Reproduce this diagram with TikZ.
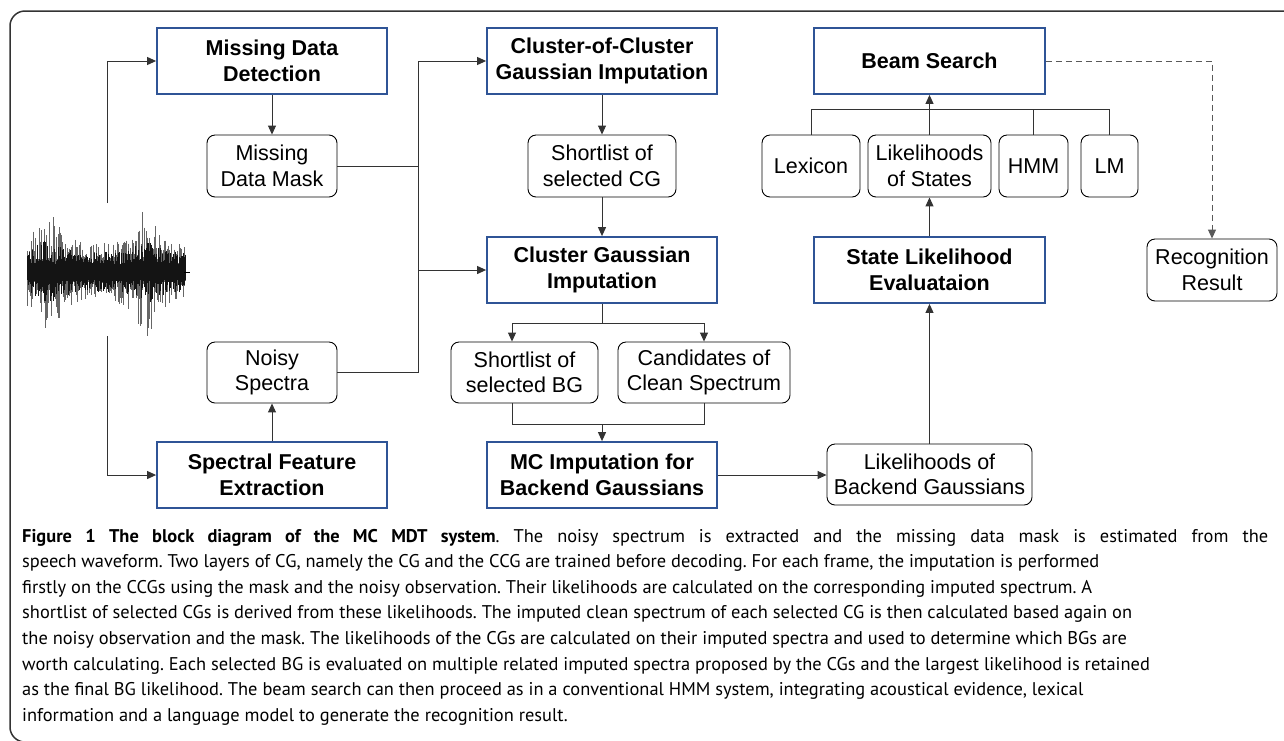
\documentclass[tikz,border=0pt]{standalone}
\usepackage{fontspec}
\setmainfont{Liberation Sans}
\newfontfamily\capfont{PT Sans}
\usetikzlibrary{arrows.meta}
\definecolor{boxblue}{HTML}{2F5496}
\definecolor{linegray}{HTML}{333333}
\newcommand\boxbf{\fontsize{21.5}{25.5}\selectfont\bfseries}
\newcommand\boxrm{\fontsize{21.5}{25.5}\selectfont}
\newcommand\capsize{\capfont\fontsize{18.4}{25.5}\selectfont\frenchspacing}
\tikzset{
  blk/.style={draw=boxblue, line width=1.8pt, minimum width=230pt, minimum height=66pt, align=center, font=\boxbf, inner sep=0pt},
  rbox/.style={draw=black, line width=0.9pt, rounded corners=8pt, align=center, font=\boxrm, inner sep=0pt},
  conn/.style={line width=1pt, draw=linegray},
  arr/.style={conn, -{Triangle[length=9pt,width=8pt]}},
  capline/.style={anchor=base west, inner sep=0pt, font=\capsize},
}
\begin{document}
\begin{tikzpicture}[x=1pt,y=-1pt]
\useasboundingbox (0,0) rectangle (1284,740);
\begin{scope}
\clip (0,0) rectangle (1284,740);
\draw[line width=1.5pt, draw=black!80, rounded corners=15pt] (10,11) rectangle (1300,742);
\end{scope}

% waveform
\pgfmathsetseed{11}
\foreach \i in {0,...,316} {
  \pgfmathsetmacro\xx{27+\i*0.5}
  \pgfmathsetmacro\env{0.3+0.75/(1+((\xx-47)/13)^2)+0.75/(1+((\xx-146)/11)^2)}
  \pgfmathsetmacro\up{8+55*(rnd^2)*\env}
  \pgfmathsetmacro\dn{8+55*(rnd^2)*\env}
  \draw[line width=0.55pt, black!60] (\xx,272-\up) -- (\xx,272+\dn);
}
\foreach \i in {0,...,316} {
  \pgfmathsetmacro\xx{27+\i*0.5}
  \pgfmathsetmacro\env{0.5+0.6/(1+((\xx-47)/13)^2)+0.6/(1+((\xx-146)/11)^2)}
  \pgfmathsetmacro\up{8+22*(rnd^2)*\env}
  \pgfmathsetmacro\dn{8+22*(rnd^2)*\env}
  \draw[line width=0.55pt, black!92] (\xx,272-\up) -- (\xx,272+\dn);
}
\draw[line width=0.6pt] (184,272) -- (190,272);

% nodes
\node[blk] (mdd) at (272,61) {Missing Data\\Detection};
\node[rbox, minimum width=130pt, minimum height=62pt] (mdm) at (272,166) {Missing\\Data Mask};
\node[blk] (ccg) at (602,61) {Cluster-of-Cluster\\Gaussian Imputation};
\node[rbox, minimum width=148pt, minimum height=62pt] (scg) at (602,166) {Shortlist of\\selected CG};
\node[blk] (cgi) at (602,270) {Cluster Gaussian\\Imputation};
\node[rbox, minimum width=147pt, minimum height=61pt] (sbg) at (524.5,372.5) {Shortlist of\\selected BG};
\node[rbox, minimum width=172pt, minimum height=61pt] (ccs) at (704,372.5) {Candidates of\\Clean Spectrum};
\node[blk] (mci) at (602,475) {MC Imputation for\\Backend Gaussians};
\node[rbox, minimum width=205pt, minimum height=61pt] (lbg) at (929.5,474.5) {Likelihoods of\\Backend Gaussians};
\node[blk, minimum width=231pt] (sle) at (929.5,270) {State Likelihood\\Evaluataion};
\node[rbox, minimum width=123pt, minimum height=62pt] (los) at (929.5,166) {Likelihoods\\of States};
\node[rbox, minimum width=98pt, minimum height=62pt] (lex) at (811,166) {Lexicon};
\node[rbox, minimum width=69pt, minimum height=62pt] (hmm) at (1033.5,166) {HMM};
\node[rbox, minimum width=57pt, minimum height=62pt] (lm) at (1109.5,166) {LM};
\node[blk, minimum width=231pt] (bs) at (929.5,61) {Beam Search};
\node[rbox, minimum width=130pt, minimum height=62pt] (rr) at (1212,270) {Recognition\\Result};
\node[rbox, minimum width=130pt, minimum height=61pt] (ns) at (272,372.5) {Noisy\\Spectra};
\node[blk] (sfe) at (272,475) {Spectral Feature\\Extraction};

% connectors
\coordinate (wtop) at (107,203);
\coordinate (wbot) at (107,336);
\coordinate (vtop) at (418,61);
\coordinate (vbot) at (418,372.5);
\coordinate (split) at (602,323);
\coordinate (merge) at (602,424);
\coordinate (bus) at (811,109);

\draw[arr] (wtop) |- (mdd.west);
\draw[arr] (wbot) |- (sfe.west);
\draw[arr] (mdd) -- (mdm);
\draw[arr] (sfe) -- (ns);
\draw[conn] (mdm.east) -- (mdm.east -| vtop);
\draw[conn] (ns.east) -- (vbot) -- (vtop);
\draw[arr] (vtop) -- (ccg.west);
\draw[arr] (vtop |- cgi.west) -- (cgi.west);
\draw[arr] (ccg) -- (scg);
\draw[arr] (scg) -- (cgi);
\draw[conn] (cgi.south) -- (split);
\draw[arr] (split) -| ([xshift=-12.5pt]sbg.north);
\draw[arr] (split) -| (ccs.north);
\draw[conn] ([xshift=-12.5pt]sbg.south) |- (merge) -| (ccs.south);
\draw[arr] (merge) -- (mci.north);
\draw[arr] (mci.east) -- (mci.east -| lbg.west);
\draw[arr] (lbg) -- (sle);
\draw[arr] (sle) -- (los);
\draw[arr] (los) -- (bs);
\draw[conn] (lex.north) |- (lm.north |- bus) -- (lm.north);
\draw[conn] (hmm.north) -- (hmm.north |- bus);
\draw[arr, dash pattern=on 6pt off 4pt, draw=black!65] (bs.east) -| (rr.north);

% caption
\node[capline] (c1) at (22,542) {\hbox to 1246pt{\textbf{Figure 1 The block diagram of the MC MDT system}. The noisy spectrum is extracted and the missing data mask is estimated from the}};
\node[capline] (c2) at (22,567.6) {speech waveform. Two layers of CG, namely the CG and the CCG are trained before decoding. For each frame, the imputation is performed};
\node[capline] (c3) at (22,593.2) {firstly on the CCGs using the mask and the noisy observation. Their likelihoods are calculated on the corresponding imputed spectrum. A};
\node[capline] (c4) at (22,618.8) {shortlist of selected CGs is derived from these likelihoods. The imputed clean spectrum of each selected CG is then calculated based again on};
\node[capline] (c5) at (22,644.4) {the noisy observation and the mask. The likelihoods of the CGs are calculated on their imputed spectra and used to determine which BGs are};
\node[capline] (c6) at (22,670) {worth calculating. Each selected BG is evaluated on multiple related imputed spectra proposed by the CGs and the largest likelihood is retained};
\node[capline] (c7) at (22,695.6) {as the final BG likelihood. The beam search can then proceed as in a conventional HMM system, integrating acoustical evidence, lexical};
\node[capline] (c8) at (22,721.2) {information and a language model to generate the recognition result.};
\end{tikzpicture}
\end{document}
